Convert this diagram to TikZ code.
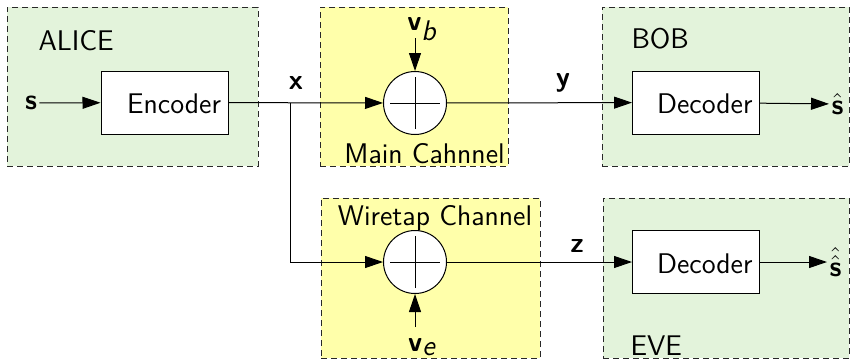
\documentclass[tikz,border=0pt]{standalone}
\usetikzlibrary{arrows.meta}
\definecolor{partyfill}{RGB}{227,243,219}
\definecolor{chanfill}{RGB}{255,255,170}
\definecolor{dashcol}{RGB}{40,40,40}
\begin{document}
\begin{tikzpicture}[x=0.5pt,y=-0.5pt,
  font=\fontsize{14.2}{17}\selectfont\sffamily,
  every path/.style={line width=0.5pt},
  region/.style={draw=dashcol,dash pattern=on 3pt off 2pt,line width=0.5pt,inner sep=0pt},
  party/.style={region,fill=partyfill},
  chan/.style={region,fill=chanfill},
  block/.style={draw,fill=white,minimum height=31.5pt,minimum width=63.5pt,inner sep=3.5pt,text width=56.5pt,align=right,text height=11pt,text depth=0pt},
  adder/.style={draw,fill=white,circle,minimum size=31.5pt,inner sep=0pt},
  sig/.style={inner sep=1pt},
  arr/.style={-{Triangle[length=9pt,width=6pt]}}
]
\useasboundingbox[fill=white] (0,0) rectangle (854,359);
% regions
\node[party,minimum width=125.5pt,minimum height=79.5pt] (alice) at (132.5,86.5) {};
\node[chan,minimum width=94pt,minimum height=79.5pt] (main) at (414,86.5) {};
\node[party,minimum width=123.5pt,minimum height=79.5pt] (bob) at (725.5,86.5) {};
\node[chan,minimum width=109.5pt,minimum height=80pt] (wire) at (430.5,278) {};
\node[party,minimum width=123pt,minimum height=80pt] (eve) at (726,278) {};
% region titles
\node[anchor=base west,inner sep=0pt] (alicet) at (38,50) {ALICE};
\node[anchor=base west,inner sep=0pt] (bobt) at (631,48) {BOB};
\node[anchor=base west,inner sep=0pt] (evet) at (630,355) {EVE};
\node[anchor=base,inner sep=0pt] (maint) at (424.5,163) {Main Cahnnel};
\node[anchor=base,inner sep=0pt] (wiret) at (435,225) {Wiretap Channel};
% blocks
\node[block] (enc) at (164.5,102.5) {Encoder};
\node[block] (dec1) at (696,102.5) {Decoder};
\node[block] (dec2) at (696,262) {Decoder};
\node[adder] (c1) at (415,103) {};
\node[adder] (c2) at (415,262) {};
\foreach \c in {c1,c2}{
  \draw[line width=0.45pt] ([xshift=-12.5pt]\c.center) -- ([xshift=12.5pt]\c.center);
  \draw[line width=0.45pt] ([yshift=-13pt]\c.center) -- ([yshift=13pt]\c.center);
}
% signal labels
\node[sig] (s) at (31,103) {\textbf{s}};
\node[sig] (xl) at (296,83) {\textbf{x}};
\node[sig] (yl) at (563,83) {\textbf{y}};
\node[sig] (zl) at (577,246) {\textbf{z}};
\node[sig] (vb) at (422,29) {$\textbf{v}_{\textit{b}}$};
\node[sig] (ve) at (422,347) {$\textbf{v}_{\textit{e}}$};
\node[sig,anchor=west] (sh1) at (829,104) {$\hat{\textbf{s}}$};
\node[sig,anchor=west] (sh2) at (827,262) {$\hat{\hat{\textbf{s}}}$};
\coordinate (vbs) at (415,38);
\coordinate (ves) at (415,327);
\coordinate (j) at (290,103);
% connectors
\draw[arr] (s) -- (enc);
\draw[arr] (enc) -- (c1);
\draw[arr] (j) |- (c2.west);
\draw[arr] (vbs) -- (c1.north);
\draw[arr] (ves) -- (c2.south);
\draw[arr] (c1) -- (dec1);
\draw[arr] (c2) -- (dec2);
\draw[arr] (dec1) -- (sh1);
\draw[arr] (dec2) -- (sh2);
\end{tikzpicture}
\end{document}
